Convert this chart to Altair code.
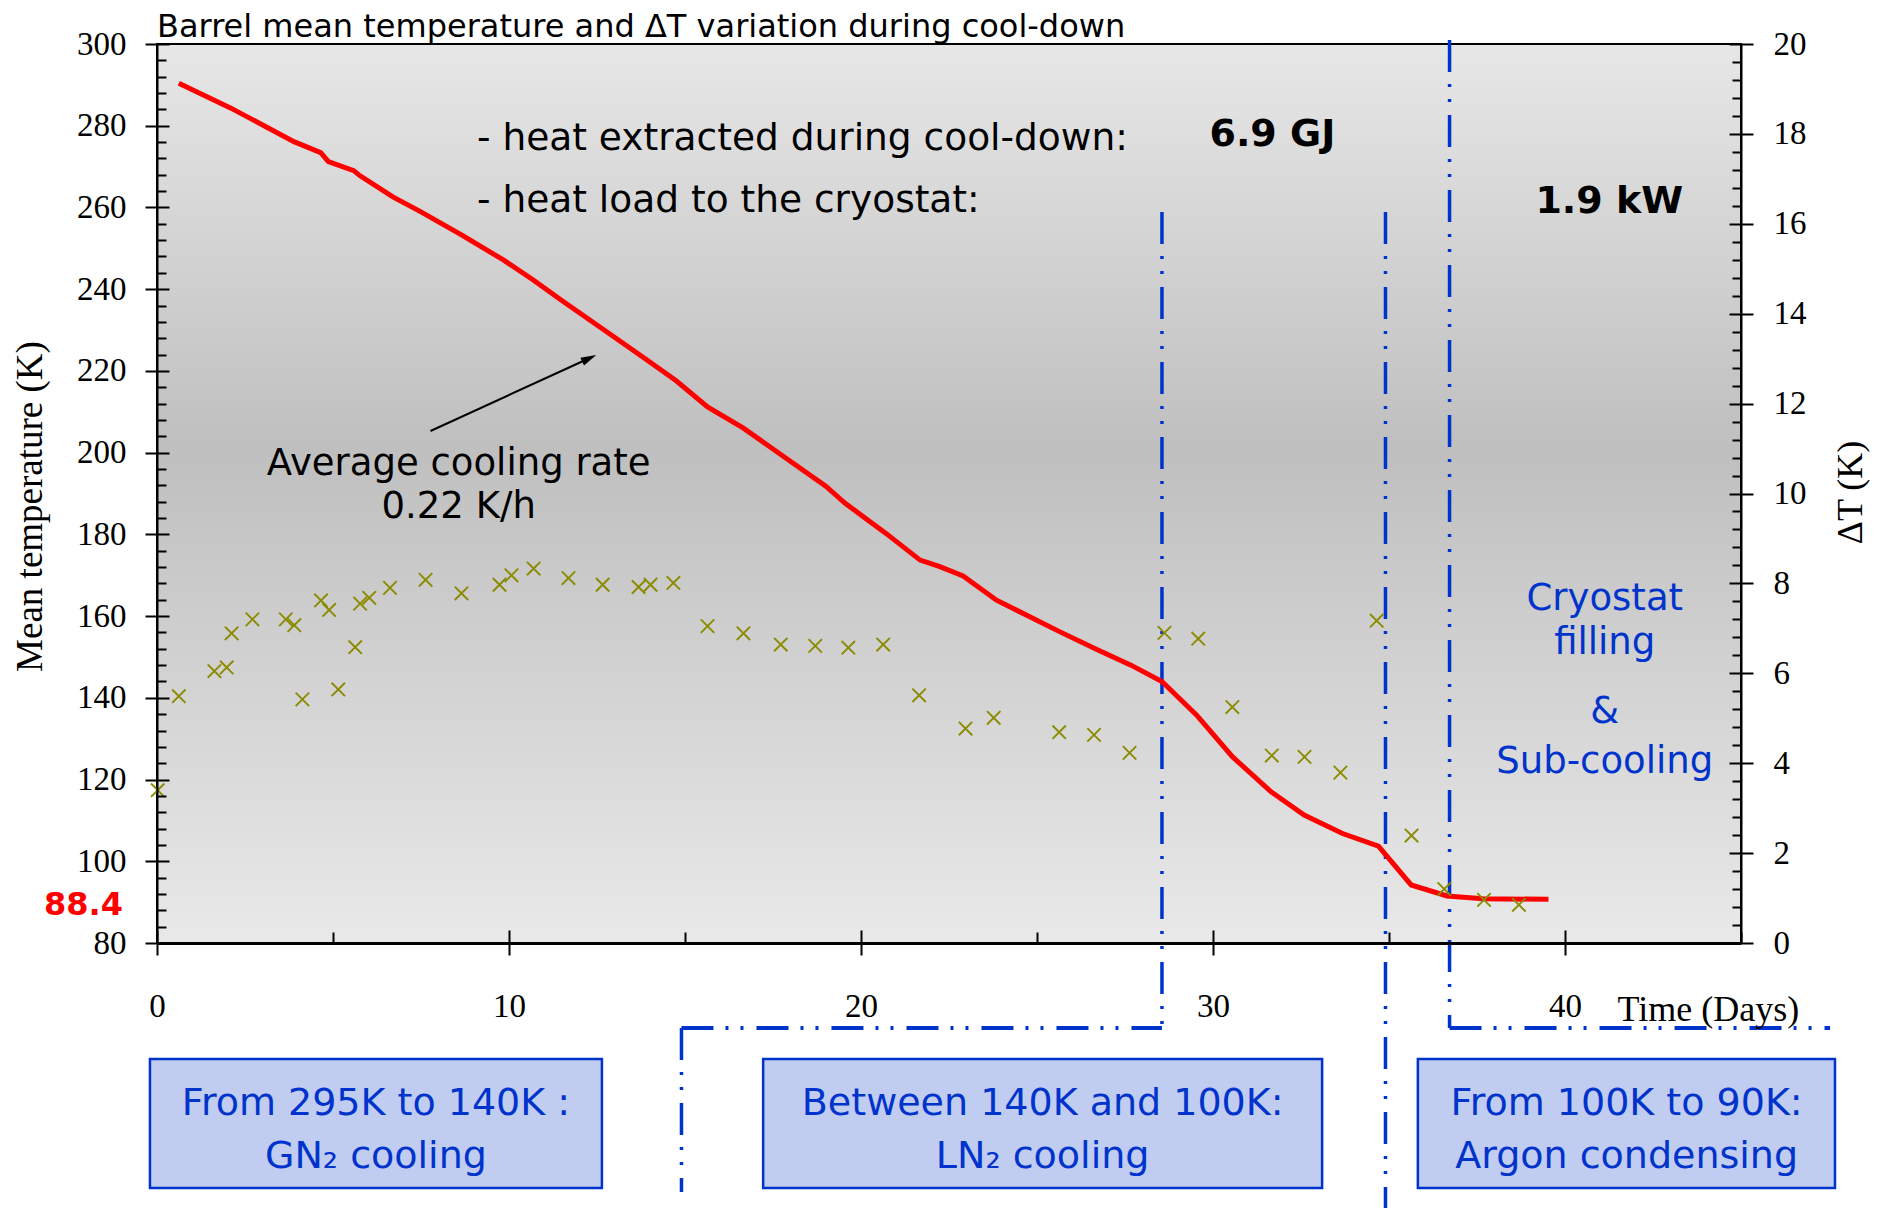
import altair as alt
import pandas as pd

W, H = 1584, 899

# ---- data ----
line_days = [0.62, 2.1, 3.89, 4.65, 4.87, 5.59, 5.76, 6.7, 7.46, 8.65, 9.85, 10.7, 11.47,
             12.57, 13.85, 14.75, 15.64, 16.66, 17.68, 19.0, 19.55, 20.7, 21.68, 22.24, 22.9,
             23.85, 25.64, 26.73, 27.67, 28.55, 29.53, 30.55, 31.65, 32.59, 33.68, 34.7,
             35.63, 36.65, 37.67, 39.53]
line_temp = [290.4, 284.3, 276.1, 273.4, 271.2, 269.0, 267.8, 262.6, 259.1, 253.3, 247.1, 242.2,
             237.4, 230.8, 223.1, 217.6, 211.2, 206.0, 199.8, 191.8, 187.6, 180.3, 173.7, 172.1,
             169.8, 163.9, 156.2, 151.7, 148.0, 144.0, 135.8, 125.6, 117.0, 111.3, 106.8, 103.7,
             94.2, 91.5, 90.8, 90.7]

cross_days = [0.02, 0.62, 1.63, 1.98, 2.12, 2.71, 3.66, 3.9, 4.13, 4.66, 4.89, 5.15, 5.63, 5.77,
              6.03, 6.62, 7.63, 8.65, 9.73, 10.07, 10.7, 11.69, 12.66, 13.68, 14.02, 14.67,
              15.64, 16.66, 17.72, 18.7, 19.64, 20.63, 21.65, 22.97, 23.77, 25.63, 26.62, 27.63,
              28.62, 29.58, 30.55, 31.67, 32.6, 33.62, 34.65, 35.64, 36.57, 37.7, 38.69]
cross_dT = [3.4, 5.49, 6.05, 6.13, 6.89, 7.2, 7.2, 7.07, 5.42, 7.62, 7.41, 5.64, 6.58, 7.55,
            7.68, 7.9, 8.08, 7.78, 7.97, 8.18, 8.33, 8.12, 7.97, 7.92, 7.97, 8.01,
            7.05, 6.89, 6.64, 6.61, 6.57, 6.64, 5.51, 4.77, 5.01, 4.69, 4.63, 4.23,
            6.9, 6.77, 5.25, 4.17, 4.14, 3.79, 7.17, 2.39, 1.2, 0.96, 0.85]

x_ticks = [0, 10, 20, 30, 40]
x_minor = list(range(0, 46, 5))
t_ticks = list(range(80, 301, 20))
t_minor = list(range(80, 301, 4))
dt_ticks = list(range(0, 21, 2))
dt_minor = [round(i * 0.4, 1) for i in range(51)]

phase_day = [28.55, 34.9, 36.72, 14.9]
phase_top = [168, 168, -4, 984]
phase_bot = [984, 1175, 984, 1148]
hline_from = [14.9, 36.72]
hline_to = [28.55, 47.53]

box_from = [-0.2, 17.22, 35.82]
box_to = [12.64, 33.1, 47.67]
box_center = [6.22, 6.22, 25.16, 25.16, 41.75, 41.75]
box_py = [1060, 1113, 1060, 1113, 1060, 1113]
box_text = ["From 295K to 140K :", "GN\u2082 cooling",
            "Between 140K and 100K:", "LN\u2082 cooling",
            "From 100K to 90K:", "Argon condensing"]

heat_day = [9.09, 9.09]
heat_temp = [276.8, 261.6]
heat_text = ["- heat extracted during cool-down:", "- heat load to the cryostat:"]
val_day = [29.9, 39.16]
val_temp = [277.7, 261.3]
val_text = ["6.9 GJ", "1.9 kW"]
rate_day = [8.57, 8.57]
rate_temp = [197.2, 186.7]
rate_text = ["Average cooling rate", "0.22 K/h"]
cryo_day = [41.13, 41.13, 41.13, 41.13]
cryo_temp = [164.2, 153.3, 136.6, 124.3]
cryo_text = ["Cryostat", "filling", "&", "Sub-cooling"]
arrow_day = [7.77, 12.28]
arrow_temp = [205.3, 223.1]

BLUE = "#0033cc"
FONT = "DejaVu Sans"
SERIF = "Liberation Serif"

XSC = alt.Scale(domain=[0, 45], nice=False, zero=False)
TSC = alt.Scale(domain=[80, 300], nice=False, zero=False)
DSC = alt.Scale(domain=[0, 20], nice=False, zero=False)

ax_common = dict(tickColor="black", domainColor="black", labelColor="black",
                 titleColor="black", labelFont=SERIF, titleFont=SERIF, grid=False, zindex=1)

one = pd.DataFrame({"a": [0]})
line_df = pd.DataFrame({"day": line_days, "temp": line_temp})
cross_df = pd.DataFrame({"day": cross_days, "dT": cross_dT})

bg = alt.Chart(one).mark_rect(
    fill=alt.LinearGradient(
        gradient="linear",
        stops=[alt.GradientStop(color="#e7e7e7", offset=0),
               alt.GradientStop(color="#bfbfbf", offset=0.45),
               alt.GradientStop(color="#e9e9e9", offset=1)],
        x1=0, x2=0, y1=0, y2=1),
    stroke="black", strokeWidth=2,
).encode(x=alt.value(0), x2=alt.value(W), y=alt.value(0), y2=alt.value(H))

boxes = alt.Chart(pd.DataFrame({"x0": box_from, "x1": box_to})).mark_rect(
    fill="#c0ccf0", stroke=BLUE, strokeWidth=2.5
).encode(x=alt.X("x0:Q", scale=XSC, axis=None), x2="x1:Q",
         y=alt.value(1015), y2=alt.value(1144))

box_labels = alt.Chart(pd.DataFrame({"xc": box_center, "py": box_py, "t": box_text})).mark_text(
    font=FONT, fontSize=38, color=BLUE, align="center", baseline="middle"
).encode(x=alt.X("xc:Q", scale=XSC, axis=None),
         y=alt.Y("py:Q", scale=None, axis=None), text="t:N")

DASH = [32, 12, 3, 12, 3, 13]
vrules = alt.Chart(pd.DataFrame({"day": phase_day, "top": phase_top, "bot": phase_bot})).mark_rule(
    color=BLUE, strokeWidth=3.5, strokeDash=DASH
).encode(x=alt.X("day:Q", scale=XSC, axis=None),
         y=alt.Y("top:Q", scale=None, axis=None), y2="bot:Q")

hrules = alt.Chart(pd.DataFrame({"d1": hline_from, "d2": hline_to})).mark_rule(
    color=BLUE, strokeWidth=4, strokeDash=DASH
).encode(x=alt.X("d1:Q", scale=XSC, axis=None), x2="d2:Q", y=alt.value(984))


def text_layer(days, temps, texts, **props):
    df = pd.DataFrame({"day": days, "temp": temps, "t": texts})
    return alt.Chart(df).mark_text(baseline="middle", **props).encode(
        x=alt.X("day:Q", scale=XSC, axis=None),
        y=alt.Y("temp:Q", scale=TSC, axis=None),
        text="t:N")


heat = text_layer(heat_day, heat_temp, heat_text, font=FONT, fontSize=37.5, color="black", align="left")
vals = text_layer(val_day, val_temp, val_text, font=FONT, fontSize=38, fontWeight="bold",
                  color="black", align="left")
rate = text_layer(rate_day, rate_temp, rate_text, font=FONT, fontSize=37, color="black", align="center")
cryo = text_layer(cryo_day, cryo_temp, cryo_text, font=FONT, fontSize=37, color=BLUE, align="center")

title = alt.Chart(one).mark_text(
    text="Barrel mean temperature and \u0394T variation during cool-down",
    font=FONT, fontSize=32, color="black", align="left", baseline="middle"
).encode(x=alt.value(0), y=alt.value(-17))

low_label = alt.Chart(one).mark_text(
    text="88.4", font=FONT, fontSize=32, fontWeight="bold", color="#ff0000",
    align="right", baseline="middle"
).encode(x=alt.value(-34), y=alt.value(861))

red = alt.Chart(line_df).mark_line(color="#ff0000", strokeWidth=5).encode(
    x=alt.X("day:Q", scale=XSC, axis=alt.Axis(
        orient="bottom", values=x_ticks, tickSize=12, tickWidth=2, domainWidth=3,
        labelFontSize=33, labelPadding=35, labelFlush=False, title="Time (Days)",
        titleFontSize=36, titleFontWeight="normal", titleX=1460, titleY=66,
        titleAlign="left", titleBaseline="middle", titleAngle=0, **ax_common)),
    y=alt.Y("temp:Q", scale=TSC, axis=alt.Axis(
        orient="left", values=t_ticks, tickSize=12, tickWidth=2, domainWidth=2,
        labelFontSize=33, labelPadding=19, title="Mean temperature (K)", titleFontSize=37,
        titleFontWeight="normal", titleX=-127, titleY=462, titleAngle=270,
        titleAlign="center", titleBaseline="middle", **ax_common)),
)

crosses = alt.Chart(cross_df).mark_point(
    shape="M-1,-1L1,1M-1,1L1,-1", filled=False, color="#8b8b00", strokeWidth=1.9,
    size=180, opacity=1
).encode(
    x=alt.X("day:Q", scale=XSC, axis=alt.Axis(
        orient="top", offset=-H, values=x_minor,
        tickSize={"condition": {"test": "datum.value % 10 === 0", "value": 13}, "value": 11},
        tickWidth=2, tickColor="black", labels=False, domain=False, title="",
        grid=False, zindex=1)),
    y=alt.Y("dT:Q", scale=DSC, axis=alt.Axis(
        orient="right", values=dt_ticks, tickSize=12, tickWidth=2, domainWidth=2,
        labelFontSize=33, labelPadding=20, title="\u0394T (K)", titleFontSize=36,
        titleFontWeight="normal", titleX=109, titleY=448, titleAngle=270,
        titleAlign="center", titleBaseline="middle", **ax_common)),
)

dt_inner = alt.Chart(cross_df).mark_point(opacity=0).encode(
    x=alt.X("day:Q", scale=XSC, axis=None),
    y=alt.Y("dT:Q", scale=DSC, axis=alt.Axis(
        orient="left", offset=-W, values=dt_minor,
        tickSize={"condition": {"test": "datum.value % 2 === 0", "value": 12}, "value": 9},
        tickWidth=2, tickColor="black", labels=False, domain=False, title="",
        grid=False, zindex=1)),
)

arrow_df = pd.DataFrame({"day": arrow_day, "temp": arrow_temp})
arrow = alt.Chart(arrow_df).mark_line(color="black", strokeWidth=2).encode(
    x=alt.X("day:Q", scale=XSC, axis=None),
    y=alt.Y("temp:Q", scale=TSC, axis=alt.Axis(
        orient="right", offset=-W, values=t_minor,
        tickSize={"condition": {"test": "datum.value % 20 === 0", "value": 12}, "value": 9},
        tickWidth=2, tickColor="black", labels=False, domain=False, title="",
        grid=False, zindex=1)),
)
arrow_head = alt.Chart(arrow_df.tail(1)).mark_point(
    shape="M0,-1L0.55,1L-0.55,1Z", angle=65, size=240, filled=True, color="black", opacity=1
).encode(x=alt.X("day:Q", scale=XSC, axis=None), y=alt.Y("temp:Q", scale=TSC, axis=None))

chart = alt.layer(
    bg, boxes, box_labels, vrules, hrules, heat, vals, rate, cryo, title, low_label,
    red, crosses, dt_inner, arrow, arrow_head
).resolve_scale(x="independent", y="independent").properties(
    width=W, height=H,
    autosize=alt.AutoSizeParams(type="none"),
    padding={"left": 149, "top": 36, "right": 129, "bottom": 265},
).configure_view(stroke=None)

chart.save("out.html", embed_options={"renderer": "svg", "actions": False})
